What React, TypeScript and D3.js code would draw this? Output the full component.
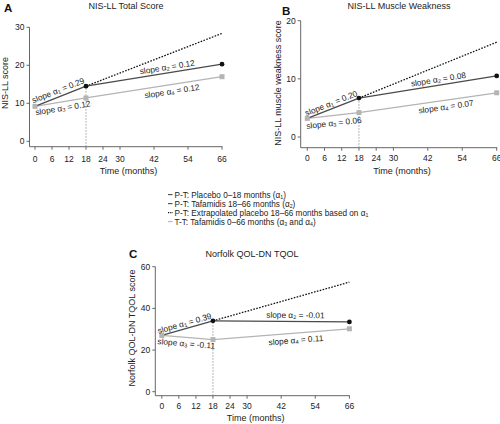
import React from "react";
import * as d3 from "d3";

const months = [0, 18, 66];
const xTickLabels = [0, 6, 12, 18, 24, 30, 42, 54, 66];

// Panel A — NIS-LL Total Score
const placeboA = [9.2, 14.5];
const tafaA = [14.5, 20.3];
const extrapA = [14.5, 28.4];
const ttA = [9.2, 11.4, 17.0];
const slopesA = ["0.29", "0.12", "0.12", "0.12"];
const yTicksA = [0, 10, 20, 30];

// Panel B — NIS-LL Muscle Weakness
const placeboB = [3.2, 6.7];
const tafaB = [6.7, 10.5];
const extrapB = [6.7, 16.3];
const ttB = [3.2, 4.2, 7.6];
const slopesB = ["0.20", "0.08", "0.06", "0.07"];
const yTicksB = [0, 10, 20];

// Panel C — Norfolk QOL-DN TQOL
const placeboC = [27.0, 34.0];
const tafaC = [34.0, 33.5];
const extrapC = [34.0, 52.6];
const ttC = [27.0, 25.0, 30.2];
const slopesC = ["0.39", "-0.01", "-0.11", "0.11"];
const yTicksC = [0, 20, 40, 60];

const legendItems = [
  { kind: "placebo", parts: ["P-T: Placebo 0–18 months  (α", "1", ")"] },
  { kind: "tafa", parts: ["P-T: Tafamidis 18–66 months  (α", "2", ")"] },
  { kind: "extrap", parts: ["P-T: Extrapolated placebo 18–66 months based on α", "1", ""] },
  { kind: "tt", parts: ["T-T: Tafamidis 0–66 months (α", "3", " and α", "4", ")"] },
];

const FONT = "'Liberation Sans', Arial, sans-serif";
const DARK = "#4a4a4a";
const LIGHT = "#b4b4b4";
const AXIS = "#666";

type PanelCfg = {
  letter: string;
  letterPos: [number, number];
  title: string;
  titlePos: [number, number];
  ylabel: string;
  ylabelPos: [number, number];
  xRange: [number, number];
  yDomain: [number, number];
  yRange: [number, number];
  yAxisX: number;
  xAxisY: number;
  tickLabelY: number;
  xTitleY: number;
  yTicks: number[];
  placebo: number[];
  tafa: number[];
  extrap: number[];
  tt: number[];
  slopes: string[];
  labelPlace: [number, number][];
};

function SlopeLabel({ x, y, seg, t, off, idx, val }: any) {
  const [t0, v0, t1, v1] = seg;
  const p0 = [x(t0), y(v0)];
  const p1 = [x(t1), y(v1)];
  const vt = v0 + ((v1 - v0) * (t - t0)) / (t1 - t0);
  const px = x(t);
  const py = y(vt);
  const ang = (Math.atan2(p1[1] - p0[1], p1[0] - p0[0]) * 180) / Math.PI;
  return (
    <g transform={`translate(${px},${py}) rotate(${ang})`}>
      <text
        x={0}
        y={-off}
        textAnchor="middle"
        dominantBaseline="central"
        fontSize={8.3}
        fontFamily={FONT}
        fill="#222"
      >
        slope α
        <tspan fontSize={5.5} dy={2}>
          {idx}
        </tspan>
        <tspan dy={-2}>{` = ${val}`}</tspan>
      </text>
    </g>
  );
}

function Panel({ c }: { c: PanelCfg }) {
  const x = d3.scaleLinear().domain([0, 66]).range(c.xRange);
  const y = d3.scaleLinear().domain(c.yDomain).range(c.yRange);
  const line = d3
    .line<[number, number]>()
    .x((d) => x(d[0]))
    .y((d) => y(d[1]));
  const placeboPts: [number, number][] = [
    [months[0], c.placebo[0]],
    [months[1], c.placebo[1]],
  ];
  const tafaPts: [number, number][] = [
    [months[1], c.tafa[0]],
    [months[2], c.tafa[1]],
  ];
  const extrapPts: [number, number][] = [
    [months[1], c.extrap[0]],
    [months[2], c.extrap[1]],
  ];
  const ttPts: [number, number][] = months.map((m, i) => [m, c.tt[i]]);
  const yTop = y(c.yTicks[c.yTicks.length - 1]);
  const segs = [
    [months[0], c.placebo[0], months[1], c.placebo[1]],
    [months[1], c.tafa[0], months[2], c.tafa[1]],
    [months[0], c.tt[0], months[1], c.tt[1]],
    [months[1], c.tt[1], months[2], c.tt[2]],
  ];
  return (
    <g>
      <text
        x={c.letterPos[0]}
        y={c.letterPos[1]}
        fontSize={11.5}
        fontWeight="bold"
        fontFamily={FONT}
        fill="#111"
      >
        {c.letter}
      </text>
      <text
        x={c.titlePos[0]}
        y={c.titlePos[1]}
        fontSize={9}
        textAnchor="middle"
        fontFamily={FONT}
        fill="#222"
      >
        {c.title}
      </text>
      <text
        transform={`translate(${c.ylabelPos[0]},${c.ylabelPos[1]}) rotate(-90)`}
        fontSize={9}
        textAnchor="middle"
        dominantBaseline="central"
        fontFamily={FONT}
        fill="#222"
      >
        {c.ylabel}
      </text>
      <line x1={c.yAxisX} x2={c.yAxisX} y1={yTop} y2={c.xAxisY} stroke={AXIS} strokeWidth={1} />
      <line x1={c.yAxisX} x2={x(66) + 0.5} y1={c.xAxisY} y2={c.xAxisY} stroke={AXIS} strokeWidth={1} />
      {c.yTicks.map((t) => (
        <g key={"y" + t}>
          <line x1={c.yAxisX - 3} x2={c.yAxisX} y1={y(t)} y2={y(t)} stroke={AXIS} />
          <text
            x={c.yAxisX - 5}
            y={y(t)}
            textAnchor="end"
            dominantBaseline="central"
            fontSize={8.5}
            fontFamily={FONT}
            fill="#222"
          >
            {t}
          </text>
        </g>
      ))}
      {xTickLabels.map((t) => (
        <g key={"x" + t}>
          <line x1={x(t)} x2={x(t)} y1={c.xAxisY} y2={c.xAxisY + 3} stroke={AXIS} />
          <text
            x={x(t)}
            y={c.tickLabelY}
            textAnchor="middle"
            fontSize={8.5}
            fontFamily={FONT}
            fill="#222"
          >
            {t}
          </text>
        </g>
      ))}
      <text
        x={(x(0) + x(66)) / 2}
        y={c.xTitleY}
        textAnchor="middle"
        fontSize={9}
        fontFamily={FONT}
        fill="#222"
      >
        Time (months)
      </text>
      <line
        x1={x(18)}
        x2={x(18)}
        y1={c.xAxisY}
        y2={y(c.placebo[1])}
        stroke="#888"
        strokeWidth={0.8}
        strokeDasharray="1.5,1.5"
      />
      <path d={line(ttPts) || ""} fill="none" stroke={LIGHT} strokeWidth={1.3} />
      <path d={line(extrapPts) || ""} fill="none" stroke="#111" strokeWidth={1.3} strokeDasharray="1.6,1.4" />
      <path d={line(tafaPts) || ""} fill="none" stroke={DARK} strokeWidth={1.3} />
      <path d={line(placeboPts) || ""} fill="none" stroke={DARK} strokeWidth={1.3} />
      {ttPts.map((p, i) => (
        <rect key={"s" + i} x={x(p[0]) - 2.5} y={y(p[1]) - 2.5} width={5} height={5} fill={LIGHT} />
      ))}
      <circle cx={x(months[1])} cy={y(c.placebo[1])} r={2.4} fill="#111" />
      <circle cx={x(months[2])} cy={y(c.tafa[1])} r={2.4} fill="#111" />
      {c.labelPlace.map((lp, i) => (
        <SlopeLabel
          key={"l" + i}
          x={x}
          y={y}
          seg={segs[i]}
          t={lp[0]}
          off={lp[1]}
          idx={i + 1}
          val={c.slopes[i]}
        />
      ))}
    </g>
  );
}

const panelA: PanelCfg = {
  letter: "A",
  letterPos: [4, 12],
  title: "NIS-LL Total Score",
  titlePos: [126, 9],
  ylabel: "NIS-LL score",
  ylabelPos: [5, 83],
  xRange: [35, 222],
  yDomain: [0, 30],
  yRange: [141.3, 27.3],
  yAxisX: 29.5,
  xAxisY: 146.7,
  tickLabelY: 161.5,
  xTitleY: 174,
  yTicks: yTicksA,
  placebo: placeboA,
  tafa: tafaA,
  extrap: extrapA,
  tt: ttA,
  slopes: slopesA,
  labelPlace: [
    [9, 6.5],
    [47, 6],
    [9.5, -6],
    [48, -6.5],
  ],
};

const panelB: PanelCfg = {
  letter: "B",
  letterPos: [282, 15],
  title: "NIS-LL Muscle Weakness",
  titlePos: [399, 8.5],
  ylabel: "NIS-LL muscle weakness score",
  ylabelPos: [277.5, 83],
  xRange: [307.3, 496.7],
  yDomain: [0, 20],
  yRange: [137, 20.7],
  yAxisX: 300.7,
  xAxisY: 147.7,
  tickLabelY: 161,
  xTitleY: 174,
  yTicks: yTicksB,
  placebo: placeboB,
  tafa: tafaB,
  extrap: extrapB,
  tt: ttB,
  slopes: slopesB,
  labelPlace: [
    [9, 5.5],
    [46, 6],
    [9, -7.5],
    [48, -6.5],
  ],
};

const panelC: PanelCfg = {
  letter: "C",
  letterPos: [129, 258],
  title: "Norfolk QOL-DN TQOL",
  titlePos: [252, 257],
  ylabel: "Norfolk QOL-DN TQOL score",
  ylabelPos: [131.5, 328],
  xRange: [161.8, 349.4],
  yDomain: [0, 60],
  yRange: [391.7, 266.7],
  yAxisX: 155.3,
  xAxisY: 395.7,
  tickLabelY: 408.5,
  xTitleY: 421,
  yTicks: yTicksC,
  placebo: placeboC,
  tafa: tafaC,
  extrap: extrapC,
  tt: ttC,
  slopes: slopesC,
  labelPlace: [
    [8.5, 5.5],
    [47, 6.5],
    [8.8, -6],
    [47, -7],
  ],
};

function Legend() {
  const x0 = 168;
  const ys = [194.6, 203.6, 212.6, 221.6];
  return (
    <g>
      {legendItems.map((it, i) => {
        const yy = ys[i];
        const stroke = it.kind === "tt" ? LIGHT : it.kind === "extrap" ? "#111" : DARK;
        return (
          <g key={i}>
            <line
              x1={x0}
              x2={x0 + 4.5}
              y1={yy}
              y2={yy}
              stroke={stroke}
              strokeWidth={1.1}
              strokeDasharray={it.kind === "extrap" ? "1,0.8" : undefined}
            />
            <text x={x0 + 6.5} y={yy + 3} fontSize={8.2} fontFamily={FONT} fill="#222">
              {it.parts[0]}
              <tspan fontSize={5.2} dy={1.5}>
                {it.parts[1]}
              </tspan>
              <tspan dy={-1.5}>{it.parts[2]}</tspan>
              {it.parts.length > 3 ? (
                <>
                  <tspan fontSize={5.2} dy={1.5}>
                    {it.parts[3]}
                  </tspan>
                  <tspan dy={-1.5}>{it.parts[4]}</tspan>
                </>
              ) : null}
            </text>
          </g>
        );
      })}
    </g>
  );
}

export default function App() {
  return (
    <svg
      width={500}
      height={424}
      style={{ position: "absolute", left: 0, top: 0, background: "#fff" }}
    >
      <rect width={500} height={424} fill="#fff" />
      <Panel c={panelA} />
      <Panel c={panelB} />
      <Panel c={panelC} />
      <Legend />
    </svg>
  );
}
